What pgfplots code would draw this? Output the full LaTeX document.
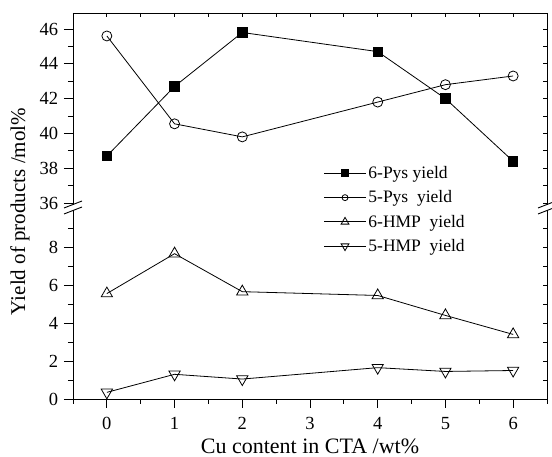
\documentclass[border=0pt]{standalone}
\usepackage{fontspec}
\setmainfont{Liberation Serif}
\usepackage{pgfplots}
\pgfplotsset{compat=1.18}

\pgfplotsset{
  brk/.style={scale only axis, width=474pt, xmin=-0.5, xmax=6.5,
    axis line style={line width=0.9pt},
    every tick/.style={black, line width=0.8pt},
    tick label style={font=\fontsize{18.5}{18.5}\selectfont},
    /pgf/number format/assume math mode=true,
    major tick length=9pt, minor tick length=5pt,
    every axis plot/.append style={black, line width=0.8pt}},
  inner/.style={brk, tick align=inside, major tick length=4pt, minor tick length=4pt,
    yticklabels={}, xticklabels={}}
}

\begin{document}
\begin{tikzpicture}
\useasboundingbox (-73pt,-58pt) rectangle (479pt,399pt);

% lower part
\begin{axis}[brk, name=bot, at={(0pt,0pt)}, anchor=south west, height=189pt,
  ymin=0, ymax=9.95, axis x line*=bottom, axis y line*=box,
  tick align=outside, ytick pos=left,
  xtick={0,...,6}, minor xtick={-0.5,0.5,...,6.5},
  ytick={0,2,...,8}, minor ytick={1,3,...,9},
  xticklabel style={yshift=-6pt}, yticklabel style={xshift=-2.4pt},
  xlabel={Cu content in CTA /wt\%},
  xlabel style={font=\fontsize{22}{22}\selectfont, yshift=-1.5pt}]
\addplot[mark=triangle, mark size=6.5pt, mark options={solid, fill=white}] coordinates {
  (0,5.55) (1,7.65) (2,5.65) (4,5.45) (5,4.4) (6,3.4)};
\addplot[mark=triangle, mark size=6.5pt, mark options={solid, fill=white, rotate=180}] coordinates {
  (0,0.35) (1,1.3) (2,1.05) (4,1.65) (5,1.45) (6,1.5)};
\end{axis}
\begin{axis}[inner, at={(0pt,0pt)}, anchor=south west, height=189pt,
  ymin=0, ymax=9.95, axis x line*=bottom, axis y line*=box,
  ytick pos=right, xtick=\empty, ytick={0,1,...,9}]
\end{axis}

% upper part
\begin{axis}[brk, name=top, at={(0pt,194pt)}, anchor=south west, height=192pt,
  ymin=35.885, ymax=46.92, axis x line*=top, axis y line*=box,
  tick align=outside, ytick pos=left, xtick=\empty,
  yticklabel style={xshift=-2.4pt},
  ytick={36,38,...,46}, minor ytick={37,39,...,45},
  legend style={draw=none, fill=none, font=\fontsize{17.5}{17.5}\selectfont,
    row sep=6.6pt, at={(0.522,0.222)}, anchor=north west, cells={anchor=west}},
  legend image code/.code={\draw[mark repeat=2,mark phase=2] plot coordinates {(0pt,0pt)(21pt,0pt)(42pt,0pt)};}]
\addplot[forget plot, mark=square*, mark size=4.7pt, mark options={solid, fill=black}] coordinates {
  (0,38.7) (1,42.7) (2,45.8) (4,44.7) (5,42.0) (6,38.4)};
\addplot[forget plot, mark=o, mark size=5pt, mark options={solid, fill=white}] coordinates {
  (0,45.6) (1,40.55) (2,39.8) (4,41.8) (5,42.8) (6,43.3)};
\addlegendimage{black, line width=0.8pt, mark=square*, mark size=3.5pt, mark options={solid, fill=black}}
\addlegendentry{6-Pys yield}
\addlegendimage{black, line width=0.8pt, mark=o, mark size=3pt, mark options={solid, fill=white}}
\addlegendentry{5-Pys\ \ yield}
\addlegendimage{black, line width=0.8pt, mark=triangle, mark size=4.5pt, mark options={solid, fill=white}}
\addlegendentry{6-HMP\ \ yield}
\addlegendimage{black, line width=0.8pt, mark=triangle, mark size=4.5pt, mark options={solid, fill=white, rotate=180}}
\addlegendentry{5-HMP\ \ yield}
\end{axis}
\begin{axis}[inner, at={(0pt,194pt)}, anchor=south west, height=192pt,
  ymin=35.885, ymax=46.92, axis x line*=top, axis y line*=box,
  ytick pos=right, xtick pos=top, ytick={36,37,...,46},
  xtick={-0.5,0,...,6.5}]
\end{axis}

% axis break marks
\foreach \xx in {0,474} {
  \draw[line width=0.9pt] (\xx pt-9pt,185pt) -- (\xx pt+9pt,192pt);
  \draw[line width=0.9pt] (\xx pt-9pt,191pt) -- (\xx pt+9pt,198pt);
}

\node[rotate=90, font=\fontsize{21}{21}\selectfont] at (-53pt,187.5pt) {Yield of products /mol\%};
\end{tikzpicture}
\end{document}
